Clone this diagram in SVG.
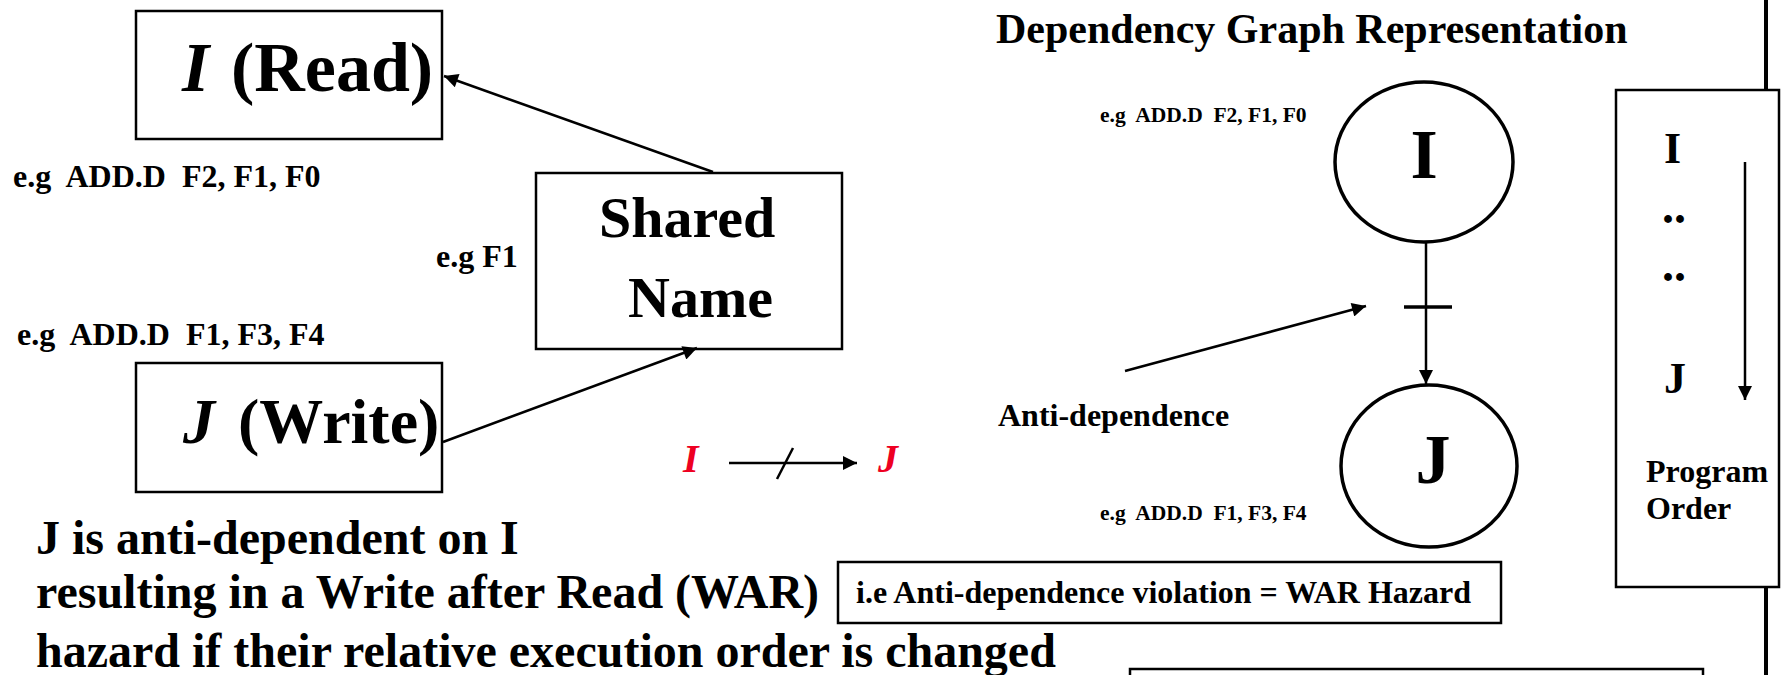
<svg xmlns="http://www.w3.org/2000/svg" width="1783" height="675" viewBox="0 0 1783 675">
<defs>
<marker id="ah" viewBox="0 0 10 10" refX="10" refY="5" markerWidth="18" markerHeight="14" markerUnits="userSpaceOnUse" orient="auto"><path d="M0,0 L10,5 L0,10 z" fill="#000"/></marker>
</defs>
<style>
text{font-family:"Liberation Serif","Times New Roman",serif;font-weight:bold;fill:#000}
.box{fill:#fff;stroke:#000;stroke-width:2.5}
.ell{fill:#fff;stroke:#000;stroke-width:3.5}
.ln{stroke:#000;stroke-width:2.5;fill:none}
.red{fill:#ee0022;font-style:italic}
.eg{font-size:32px}
.egs{font-size:21.5px}
</style>
<rect width="1783" height="675" fill="#fff"/>
<line x1="1766" y1="0" x2="1766" y2="675" stroke="#000" stroke-width="4"/>

<g id="node-read">
<rect class="box" x="136" y="11" width="306" height="128"/>
<text x="182" y="91" font-size="70"><tspan font-style="italic">I</tspan><tspan x="231">(Read)</tspan></text>
</g>
<text class="eg" x="13" y="187" xml:space="preserve">e.g  ADD.D  F2, F1, F0</text>

<g id="node-shared">
<rect class="box" x="536" y="173" width="306" height="176"/>
<text x="599" y="237" font-size="58">Shared</text>
<text x="628" y="317" font-size="58">Name</text>
</g>
<text class="eg" x="436" y="267">e.g F1</text>

<text class="eg" x="17" y="345" xml:space="preserve">e.g  ADD.D  F1, F3, F4</text>
<g id="node-write">
<rect class="box" x="136" y="363" width="306" height="129"/>
<text x="183" y="443" font-size="64"><tspan font-style="italic">J</tspan><tspan x="238">(Write)</tspan></text>
</g>

<g id="connectors">
<line class="ln" x1="713" y1="172" x2="444" y2="76" marker-end="url(#ah)"/>
<line class="ln" x1="443" y1="442" x2="697" y2="348" marker-end="url(#ah)"/>
<line class="ln" x1="1426" y1="243" x2="1426" y2="384" marker-end="url(#ah)"/>
<line x1="1404" y1="307" x2="1452" y2="307" stroke="#000" stroke-width="3.5"/>
<line class="ln" x1="1125" y1="371" x2="1366" y2="306" marker-end="url(#ah)"/>
<line class="ln" x1="729" y1="463" x2="857" y2="463" marker-end="url(#ah)"/>
<line class="ln" x1="793" y1="448" x2="777" y2="479"/>
</g>

<g id="red-ij">
<text class="red" x="683" y="472" font-size="40">I</text>
<text class="red" x="878" y="472" font-size="40">J</text>
</g>

<text x="36" y="554" font-size="48">J is anti-dependent on I</text>
<text x="36" y="608" font-size="48">resulting in a Write after Read (WAR)</text>
<text x="36" y="667" font-size="48">hazard if their relative execution order is changed</text>

<g id="node-war">
<rect class="box" x="838" y="562" width="663" height="61"/>
<text x="856" y="603" font-size="32">i.e Anti-dependence violation = WAR Hazard</text>
</g>

<text x="996" y="43" font-size="42">Dependency Graph Representation</text>
<text class="egs" x="1100" y="122" xml:space="preserve">e.g  ADD.D  F2, F1, F0</text>
<text class="egs" x="1100" y="520" xml:space="preserve">e.g  ADD.D  F1, F3, F4</text>
<text x="998" y="426" font-size="32">Anti-dependence</text>

<g id="node-gi">
<ellipse class="ell" cx="1424" cy="162" rx="89" ry="80"/>
<text x="1424" y="178" font-size="70" text-anchor="middle">I</text>
</g>
<g id="node-gj">
<ellipse class="ell" cx="1429" cy="466" rx="88" ry="81"/>
<text x="1433" y="483" font-size="70" text-anchor="middle">J</text>
</g>

<g id="node-order">
<rect class="box" x="1616" y="90" width="163" height="497"/>
<text x="1664" y="163" font-size="44">I</text>
<text x="1662" y="223" font-size="48">..</text>
<text x="1662" y="281" font-size="48">..</text>
<text x="1664" y="393" font-size="44">J</text>
<line class="ln" x1="1745" y1="162" x2="1745" y2="400" marker-end="url(#ah)"/>
<text x="1646" y="482" font-size="32">Program</text>
<text x="1646" y="519" font-size="32">Order</text>
</g>

<g id="node-bottom">
<rect class="box" x="1130" y="669" width="573" height="40"/>
</g>
</svg>
